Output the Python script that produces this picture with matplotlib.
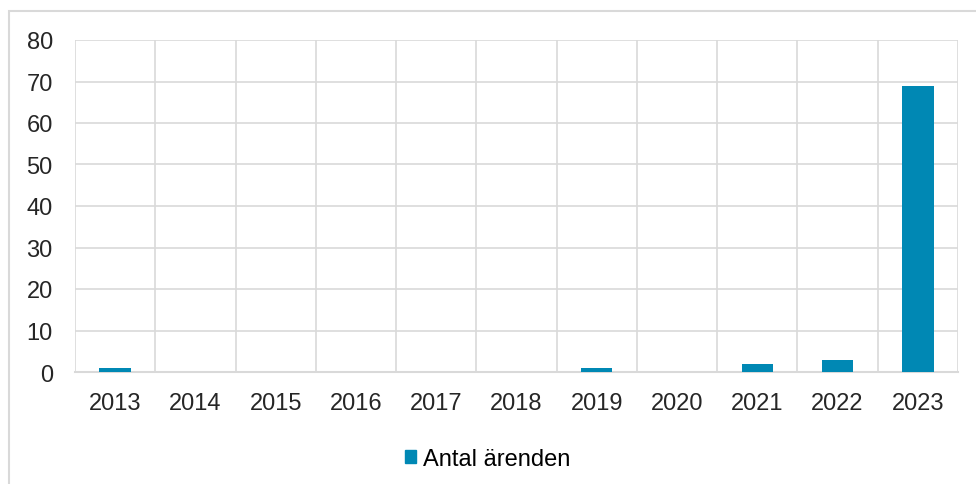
import matplotlib.pyplot as plt
from matplotlib.patches import Rectangle, Patch
import numpy as np

years = ["2013", "2014", "2015", "2016", "2017", "2018", "2019", "2020", "2021", "2022", "2023"]
arenden = [1, 0, 0, 0, 0, 0, 1, 0, 2, 3, 69]

plt.rcParams['font.family'] = ['Liberation Sans', 'DejaVu Sans']

fig = plt.figure(figsize=(9.76, 4.85), dpi=100)
# yttre ram
fig.patches.append(Rectangle((9 / 976, -0.1), 1.2, 1 - 12 / 485 + 0.1, transform=fig.transFigure,
                             fill=False, edgecolor="#D9D9D9", linewidth=1.5))

ax = fig.add_axes([75 / 976, 1 - 373 / 485, (958 - 75) / 976, (373 - 41) / 485])
x = np.arange(len(years))
ax.bar(x, arenden, width=0.39, color="#0088B4", zorder=3)

ax.set_xlim(-0.5, len(years) - 0.5)
ax.set_ylim(0, 80)
ax.set_yticks(np.arange(0, 81, 10))
ax.set_xticks(x)
ax.set_xticklabels(years)
ax.set_xticks(np.arange(-0.5, len(years)), minor=True)
ax.grid(True, axis="y", color="#D9D9D9", linewidth=1.2)
ax.grid(True, axis="x", which="minor", color="#D9D9D9", linewidth=1.2)
ax.set_axisbelow(True)
ax.tick_params(which="both", length=0, labelsize=17, colors="#262626")
ax.tick_params(axis="x", pad=14.5)
ax.tick_params(axis="y", pad=16)
for s in ["top", "right", "left"]:
    ax.spines[s].set_visible(False)
ax.spines["bottom"].set_color("#D9D9D9")
ax.spines["bottom"].set_linewidth(1.5)

fig.legend(handles=[Patch(color="#0088B4", label="Antal ärenden")], loc="center",
           bbox_to_anchor=(0.5, 1 - 460 / 485), frameon=False, fontsize=17,
           handlelength=0.45, handleheight=0.45, handletextpad=0.3)

fig.savefig("out.png", dpi=100)
